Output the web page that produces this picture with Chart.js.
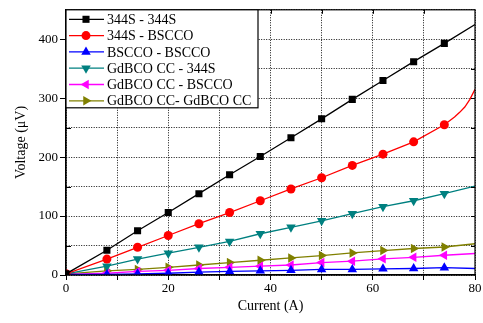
<!DOCTYPE html>
<html>
<head>
<meta charset="utf-8">
<script src="https://cdn.jsdelivr.net/npm/chart.js@4.4.1/dist/chart.umd.min.js"></script>
<style>
  html, body { margin: 0; padding: 0; background: #fff; }
  #wrap { width: 483px; height: 323px; }
</style>
</head>
<body>
<div id="wrap"><canvas id="c" width="483" height="323"></canvas></div>
<script>
// currents (A) where the curves were read
const currents = [0, 8, 14, 20, 26, 32, 38, 44, 50, 56, 62, 68, 74, 80]
const redCurrents = [0, 8, 14, 20, 26, 32, 38, 44, 50, 56, 62, 68, 74, 76, 77, 78, 79, 80]
const markerAt = [0, 8, 14, 20, 26, 32, 38, 44, 50, 56, 62, 68, 74]

// voltages (uV)
const v344S_344S = [2, 42, 75, 106, 138, 170, 201, 233, 265, 298, 330, 362, 393, 425]
const v344S_BSCCO = [2, 27, 47, 67, 87, 106, 126, 146, 165, 186, 205, 226, 255, 268, 276, 285, 298, 315]
const vBSCCO_BSCCO = [1, 1, 2, 3, 5, 6, 7, 8, 9.5, 9.5, 10.5, 11, 12.5, 11]
const vGdBCO_344S = [2, 15, 27, 37, 47, 57, 70, 81, 92, 104, 116, 126, 138, 151]
const vGdBCO_BSCCO = [1, 3, 6, 8, 11, 13, 15, 17, 21, 23.5, 27.5, 30, 33.5, 36.5]
const vGdBCO_GdBCO = [2, 7, 9.5, 13, 17, 21, 25, 29, 33, 37.5, 41.5, 45, 47.5, 53]

const xTickLabels = [0, 20, 40, 60, 80]
const yTickLabels = [0, 100, 200, 300, 400]

const serif = "'Liberation Serif', 'Times New Roman', serif"

function pts(xs, ys) {
  return xs.map((x, i) => ({ x, y: ys[i] }))
}

function series(label, xs, ys, color, style, rotation, radius) {
  return {
    label,
    data: pts(xs, ys),
    borderColor: color,
    backgroundColor: color,
    borderWidth: 1.3,
    pointStyle: style,
    rotation,
    pointRadius: ctx => markerAt.includes(ctx.raw && ctx.raw.x) ? radius : 0,
    pointBorderWidth: 0,
    tension: 0,
  }
}

const datasets = [
  series("344S - 344S", currents, v344S_344S, "#000000", "rect", 0, 5),
  series("344S - BSCCO", redCurrents, v344S_BSCCO, "#ff0000", "circle", 0, 4.5),
  series("BSCCO - BSCCO", currents, vBSCCO_BSCCO, "#0000ff", "triangle", 0, 5.5),
  series("GdBCO CC - 344S", currents, vGdBCO_344S, "#008080", "triangle", 180, 5.5),
  series("GdBCO CC - BSCCO", currents, vGdBCO_BSCCO, "#ff00ff", "triangle", -90, 5.5),
  series("GdBCO CC- GdBCO CC", currents, vGdBCO_GdBCO, "#808000", "triangle", 90, 5.5),
]

// frame, inner ticks and the boxed legend
const frame = {
  id: "frame",
  afterDraw(chart) {
    const { ctx, chartArea: a, scales } = chart
    ctx.save()
    ctx.strokeStyle = "#000"
    ctx.lineWidth = 1.2
    ctx.strokeRect(a.left, a.top, a.right - a.left, a.bottom - a.top)
    ctx.lineWidth = 1
    ctx.beginPath()
    for (let v = 10; v < 80; v += 10) {
      const x = Math.round(scales.x.getPixelForValue(v)) + 0.5
      ctx.moveTo(x, a.top); ctx.lineTo(x, a.top + 4)
    }
    for (let v = 50; v < 450; v += 50) {
      const y = Math.round(scales.y.getPixelForValue(v)) + 0.5
      ctx.moveTo(a.right, y); ctx.lineTo(a.right - 4, y)
      if (v % 100) { ctx.moveTo(a.left, y); ctx.lineTo(a.left + 5, y) }
    }
    ctx.stroke()

    // legend
    const lx = a.left, ly = a.top, lw = 192, lh = 98
    ctx.fillStyle = "#fff"
    ctx.fillRect(lx, ly, lw, lh)
    ctx.lineWidth = 1.2
    ctx.strokeRect(lx, ly, lw, lh)
    ctx.font = "14px " + serif
    ctx.textBaseline = "middle"
    chart.data.datasets.forEach((ds, i) => {
      const y = ly + 9.5 + i * 16.3
      ctx.strokeStyle = ds.borderColor
      ctx.lineWidth = 1.3
      ctx.beginPath()
      ctx.moveTo(lx + 3, y); ctx.lineTo(lx + 38, y)
      ctx.stroke()
      const r = ds.pointStyle === "rect" ? 5 : ds.pointStyle === "circle" ? 4.5 : 5.5
      ctx.fillStyle = ds.backgroundColor
      Chart.helpers.drawPoint(ctx, { pointStyle: ds.pointStyle, rotation: ds.rotation, radius: r, borderWidth: 0 }, lx + 20, y)
      ctx.fillStyle = "#000"
      ctx.fillText(ds.label, lx + 41, y + 1)
    })
    ctx.restore()
  }
}

new Chart(document.getElementById("c"), {
  type: "line",
  data: { datasets },
  options: {
    responsive: false,
    animation: false,
    layout: { padding: { top: 7, right: 8, left: 0, bottom: 0 } },
    plugins: { legend: { display: false }, tooltip: { enabled: false } },
    scales: {
      x: {
        type: "linear",
        min: 0,
        max: 80,
        ticks: {
          stepSize: 10,
          color: "#000",
          font: { family: serif, size: 13 },
          padding: 1,
          maxRotation: 0,
          callback: v => xTickLabels.includes(v) ? String(v) : "",
        },
        grid: { color: "#111", lineWidth: 1, tickLength: 5, tickColor: "#000" },
        border: { color: "#000", width: 1.2, dash: [1, 1.5] },
        title: { display: true, text: "Current (A)", color: "#000", font: { family: serif, size: 14 }, padding: { top: 4, bottom: 8 } },
        afterFit: s => { s.height = 48 },
      },
      y: {
        min: 0,
        max: 450,
        ticks: {
          stepSize: 50,
          color: "#000",
          font: { family: serif, size: 13 },
          padding: 2,
          callback: v => yTickLabels.includes(v) ? String(v) : "",
        },
        grid: {
          color: "#111",
          lineWidth: 1,
          tickLength: 6,
          tickColor: ctx => ctx.tick && ctx.tick.value % 100 ? "rgba(0,0,0,0)" : "#000",
        },
        border: { color: "#000", width: 1.2, dash: [1, 1.5] },
        title: { display: true, text: "Voltage (\u03bcV)", color: "#000", font: { family: serif, size: 14 }, padding: { top: 13, bottom: 4 } },
        afterFit: s => { s.width = 66 },
      },
    },
  },
  plugins: [frame],
})
</script>
</body>
</html>
